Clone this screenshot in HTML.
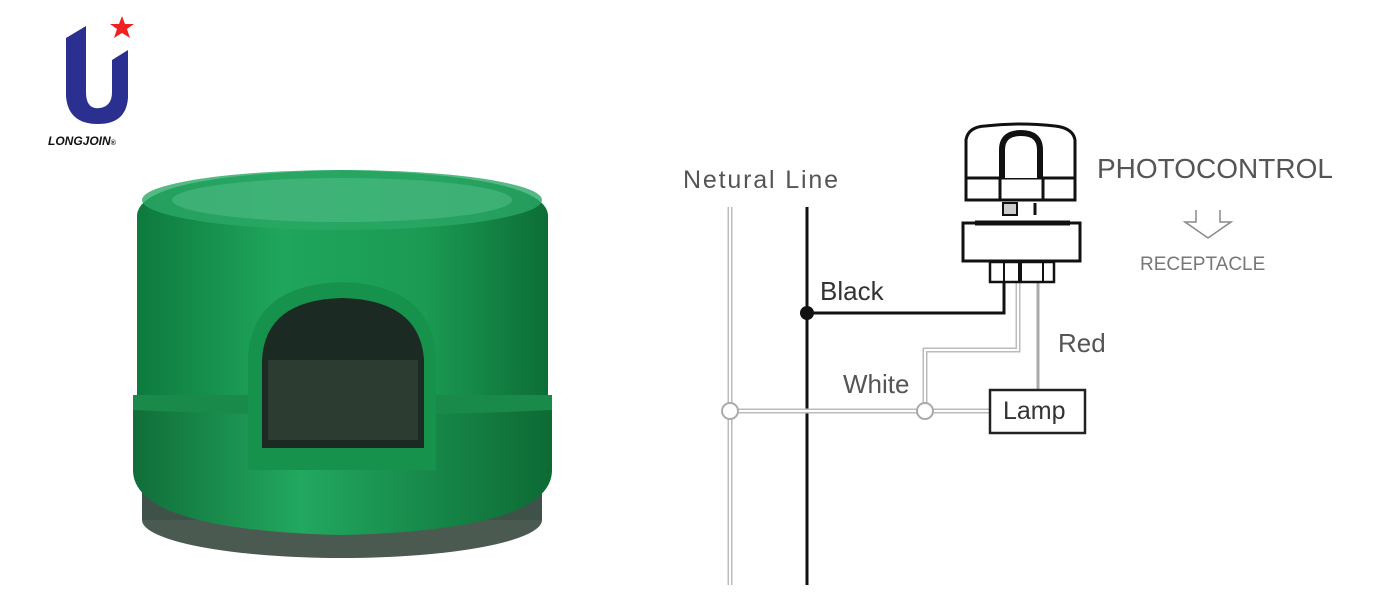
<!DOCTYPE html>
<html><head><style>
html,body{margin:0;padding:0;background:#fff}
svg{display:block}
text{font-family:"Liberation Sans",sans-serif}
</style></head><body>
<svg width="1400" height="604" viewBox="0 0 1400 604" xmlns="http://www.w3.org/2000/svg">
<defs>
<linearGradient id="g1" x1="0" x2="1"><stop offset="0" stop-color="#0e7a3e"/><stop offset="0.35" stop-color="#1fa65c"/><stop offset="0.7" stop-color="#1b9a53"/><stop offset="1" stop-color="#0c6e36"/></linearGradient>
<linearGradient id="g2" x1="0" x2="1"><stop offset="0" stop-color="#106e38"/><stop offset="0.4" stop-color="#22a860"/><stop offset="1" stop-color="#0d6a34"/></linearGradient>
</defs>
<!-- logo -->
<path d="M66 38 L86 26 L86 92 Q86 110 100 108 Q112 106 112 92 L112 60 L128 50 L128 98 Q126 124 98 124 Q68 124 66 96 Z" fill="#2b2f8f"/>
<polygon points="122,16 125,24 134,24 127,29 130,38 122,33 114,38 117,29 110,24 119,24" fill="#e22"/>
<text x="48" y="145" font-size="12" font-weight="bold" font-style="italic" fill="#111">LONGJOIN<tspan font-size="7">®</tspan></text>
<!-- device -->
<ellipse cx="342" cy="520" rx="200" ry="38" fill="#4a5a50"/>
<rect x="142" y="400" width="400" height="120" fill="#3f524a"/>
<path d="M137 215 Q140 175 342 170 Q545 175 548 215 L548 400 L137 400 Z" fill="url(#g1)"/>
<ellipse cx="342" cy="200" rx="200" ry="30" fill="#2aa865" opacity="0.8"/>
<ellipse cx="342" cy="200" rx="170" ry="22" fill="#5cc490" opacity="0.45"/>
<path d="M133 395 L552 395 L552 470 Q552 530 342 535 Q133 530 133 470 Z" fill="url(#g2)"/>
<path d="M133 395 L552 395 L552 410 Q342 420 133 410 Z" fill="#1a8a4a"/>
<path d="M248 470 L248 360 Q250 285 342 282 Q434 285 436 360 L436 470 Z" fill="#17924d"/>
<path d="M262 448 L262 360 Q265 300 342 298 Q420 300 424 360 L424 448 Z" fill="#1b2a22"/>
<rect x="268" y="360" width="150" height="80" fill="#2c3c30"/>
<!-- diagram wires -->
<g fill="none">
<line x1="730" y1="207" x2="730" y2="585" stroke="#bbb" stroke-width="5"/>
<line x1="730" y1="207" x2="730" y2="585" stroke="#fff" stroke-width="2"/>
<line x1="807" y1="207" x2="807" y2="585" stroke="#111" stroke-width="3"/>
<polyline points="807,313 1004,313 1004,280" stroke="#111" stroke-width="3"/>
<polyline points="1018,280 1018,350 925,350 925,411" stroke="#bbb" stroke-width="5"/>
<polyline points="1018,280 1018,350 925,350 925,411" stroke="#fff" stroke-width="2"/>
<line x1="730" y1="411" x2="990" y2="411" stroke="#bbb" stroke-width="5"/>
<line x1="730" y1="411" x2="990" y2="411" stroke="#fff" stroke-width="2"/>
<line x1="1038" y1="280" x2="1038" y2="390" stroke="#aaa" stroke-width="3"/>
<circle cx="730" cy="411" r="8" stroke="#aaa" stroke-width="2" fill="#fff"/>
<circle cx="925" cy="411" r="8" stroke="#aaa" stroke-width="2" fill="#fff"/>
<rect x="990" y="390" width="95" height="43" stroke="#222" stroke-width="2.5" fill="#fff"/>
</g>
<circle cx="807" cy="313" r="7" fill="#111"/>
<!-- photocontrol -->
<g fill="#fff" stroke="#111" stroke-width="3">
<path d="M966 200 L966 140 Q968 127 985 126 Q1020 122 1055 126 Q1073 128 1075 140 L1075 200 Z"/>
<line x1="966" y1="178" x2="1075" y2="178"/>
<line x1="1000" y1="178" x2="1000" y2="200"/>
<line x1="1043" y1="178" x2="1043" y2="200"/>
<path d="M1002 178 L1002 150 Q1002 133 1021 133 Q1040 133 1040 150 L1040 178" stroke-width="6"/>
<rect x="1003" y="203" width="14" height="12" stroke-width="2" fill="#ccc"/>
<line x1="1035" y1="203" x2="1035" y2="215" stroke-width="3"/>
<rect x="963" y="223" width="117" height="38"/>
<line x1="975" y1="223" x2="1070" y2="223" stroke-width="5"/>
<rect x="990" y="262" width="64" height="20" stroke-width="2.5"/>
<line x1="1004" y1="262" x2="1004" y2="282" stroke-width="2"/>
<line x1="1020" y1="262" x2="1020" y2="282" stroke-width="4"/>
<line x1="1043" y1="262" x2="1043" y2="282" stroke-width="2"/>
</g>
<path d="M1196 210 L1196 222 L1185 222 L1208 238 L1231 222 L1220 222 L1220 210" fill="none" stroke="#888" stroke-width="1.5"/>
<!-- labels -->
<g fill="#555">
<text x="683" y="188" font-size="25" textLength="155" lengthAdjust="spacing">Netural  Line</text>
<text x="820" y="300" font-size="26" fill="#333">Black</text>
<text x="1058" y="352" font-size="26">Red</text>
<text x="843" y="393" font-size="26">White</text>
<text x="1003" y="419" font-size="25" fill="#333">Lamp</text>
<text x="1097" y="178" font-size="28">PHOTOCONTROL</text>
<text x="1140" y="270" font-size="19" fill="#777">RECEPTACLE</text>
</g>
</svg>
</body></html>
